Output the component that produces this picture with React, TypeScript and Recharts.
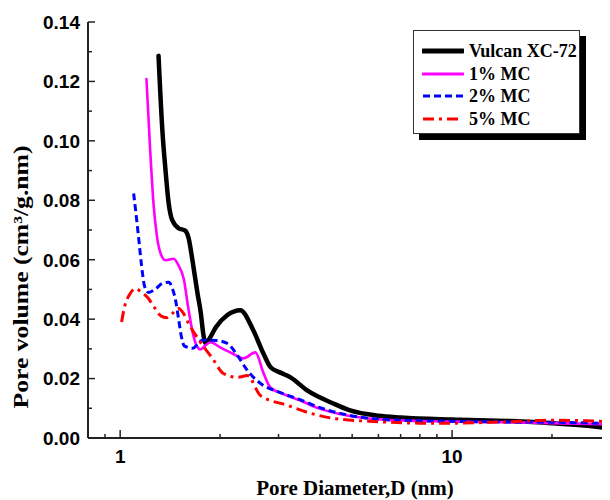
import React from "react";
import { LineChart, Line, XAxis, YAxis, Legend, Label } from "recharts";

// pore size distribution, [diameter nm, volume cm3/g.nm]
const vulcanXC72: [number, number][] = [
  [1.305, 0.1286], [1.34, 0.1036], [1.37, 0.09], [1.4, 0.079], [1.435, 0.0733],
  [1.5, 0.0706], [1.57, 0.0698], [1.61, 0.067], [1.65, 0.06], [1.71, 0.0487],
  [1.75, 0.042], [1.78, 0.035], [1.81, 0.0318], [1.86, 0.0335], [1.94, 0.0372],
  [2.1, 0.0413], [2.3, 0.043], [2.52, 0.0362], [2.7, 0.0285], [2.84, 0.0238],
  [3.04, 0.022], [3.26, 0.0204], [3.66, 0.016], [4.39, 0.0116], [4.93, 0.0093],
  [6.0, 0.0075], [7.0, 0.0069], [10, 0.0062], [15, 0.0057], [20, 0.005],
  [25, 0.0042], [29.5, 0.0033],
];

const mc1: [number, number][] = [
  [1.2, 0.1208], [1.23, 0.098], [1.26, 0.079], [1.29, 0.068], [1.33, 0.0615],
  [1.37, 0.0598], [1.45, 0.0603], [1.5, 0.058], [1.555, 0.0535], [1.6, 0.0445],
  [1.65, 0.036], [1.7, 0.031], [1.746, 0.0298], [1.8, 0.031], [1.87, 0.0322],
  [2.0, 0.0305], [2.2, 0.0282], [2.35, 0.0268], [2.556, 0.0288], [2.7, 0.022],
  [2.836, 0.017], [3.1, 0.0148], [3.49, 0.0126], [4.0, 0.0098], [4.83, 0.0076],
  [6, 0.0063], [8, 0.0057], [10, 0.0055], [15, 0.0053], [20, 0.005], [29.5, 0.0046],
];

const mc2: [number, number][] = [
  [1.098, 0.0823], [1.12, 0.074], [1.14, 0.066], [1.16, 0.058], [1.185, 0.051],
  [1.218, 0.049], [1.28, 0.0502], [1.34, 0.052], [1.4, 0.0524], [1.44, 0.05],
  [1.469, 0.0463], [1.5, 0.04], [1.53, 0.034], [1.56, 0.031], [1.652, 0.0302],
  [1.77, 0.0329], [1.95, 0.0328], [2.106, 0.0318], [2.25, 0.028], [2.418, 0.0227],
  [2.7, 0.0177], [3.0, 0.0155], [3.5, 0.0128], [4.0, 0.0102], [4.83, 0.0078],
  [6, 0.0063], [8, 0.0058], [10, 0.0056], [15, 0.0054], [20, 0.0053], [29.5, 0.0049],
];

const mc5: [number, number][] = [
  [1.01, 0.039], [1.03, 0.044], [1.07, 0.0485], [1.113, 0.0503], [1.16, 0.049],
  [1.21, 0.0473], [1.27, 0.0438], [1.33, 0.041], [1.38, 0.0405], [1.44, 0.042],
  [1.5, 0.0436], [1.55, 0.042], [1.607, 0.0386], [1.746, 0.0322], [1.897, 0.0268],
  [2.047, 0.0217], [2.257, 0.0204], [2.418, 0.021], [2.646, 0.0143], [3.19, 0.011],
  [3.7, 0.0085], [4.39, 0.0066], [6, 0.0055], [8, 0.005], [10, 0.005],
  [15, 0.0055], [20, 0.006], [25, 0.0058], [29.5, 0.0055],
];

const xTicks = [0.9, 1, 2, 3, 4, 5, 6, 7, 8, 9, 10, 20];
const xLabelled = [1, 10];
const yTicks = [0, 0.01, 0.02, 0.03, 0.04, 0.05, 0.06, 0.07, 0.08, 0.09, 0.1, 0.11, 0.12, 0.13, 0.14];
const yLabelled = [0, 0.02, 0.04, 0.06, 0.08, 0.1, 0.12, 0.14];

const series = [
  { name: "Vulcan XC-72", points: vulcanXC72, color: "#000000", width: 4.5, dash: undefined as string | undefined },
  { name: "1% MC", points: mc1, color: "#ff00ff", width: 2.6, dash: undefined },
  { name: "2% MC", points: mc2, color: "#0000ff", width: 3, dash: "7 4" },
  { name: "5% MC", points: mc5, color: "#ff0000", width: 3, dash: "11 5 3 5" },
];

const toRows = (pts: [number, number][]) => pts.map(([d, v]) => ({ d, v }));

const AXIS = "#222";
const tickFont = { fontFamily: "'Liberation Sans', Arial, sans-serif", fontWeight: 700, fontSize: 19, fill: "#000" };
const serif = "'Liberation Serif', 'Times New Roman', serif";

const isYMajor = (v: number) => yLabelled.some((m) => Math.abs(m - v) < 1e-9);

function BottomTick(props: any) {
  const { x, y, payload } = props;
  const major = xLabelled.includes(payload.value);
  return (
    <g>
      <line x1={x} x2={x} y1={y} y2={y - (major ? 8 : 4)} stroke={AXIS} strokeWidth={1.5} />
      {major && (
        <text x={x} y={y + 25} textAnchor="middle" {...tickFont}>
          {payload.value}
        </text>
      )}
    </g>
  );
}

function TopTick(props: any) {
  const { x, y, payload } = props;
  const major = xLabelled.includes(payload.value);
  return <line x1={x} x2={x} y1={y} y2={y + (major ? 8 : 4)} stroke={AXIS} strokeWidth={1.5} />;
}

function LeftTick(props: any) {
  const { x, y, payload } = props;
  const major = isYMajor(payload.value);
  return (
    <g>
      <line x1={x} x2={x + (major ? 7 : 4)} y1={y} y2={y} stroke={AXIS} strokeWidth={1.5} />
      {major && (
        <text x={x - 8} y={y} dy="0.36em" textAnchor="end" {...tickFont}>
          {payload.value.toFixed(2)}
        </text>
      )}
    </g>
  );
}

function RightTick(props: any) {
  const { x, y, payload } = props;
  const major = isYMajor(payload.value);
  return <line x1={x} x2={x - (major ? 7 : 4)} y1={y} y2={y} stroke={AXIS} strokeWidth={1.5} />;
}

function LegendBox() {
  return (
    <div
      style={{
        width: 167,
        height: 104,
        boxSizing: "border-box",
        border: "1px solid #333",
        background: "#fff",
        boxShadow: "6px 6px 0 #000",
        paddingTop: 9,
        paddingLeft: 8,
      }}
    >
      {series.map((s) => (
        <div key={s.name} style={{ display: "flex", alignItems: "center", height: 22.5 }}>
          <svg width={42} height={10} style={{ marginRight: 5 }}>
            <line
              x1={1}
              x2={41}
              y1={5}
              y2={5}
              stroke={s.color}
              strokeWidth={s.name === "Vulcan XC-72" ? 5 : 3}
              strokeDasharray={s.dash}
              strokeLinecap={s.dash ? "butt" : "round"}
            />
          </svg>
          <span style={{ fontFamily: serif, fontWeight: 700, fontSize: 18, color: "#000", lineHeight: 1 }}>
            {s.name}
          </span>
        </div>
      ))}
    </div>
  );
}

export default function App() {
  return (
    <div style={{ width: 602, height: 492 }}>
      <LineChart width={602} height={492} margin={{ top: 14, right: 2, bottom: 12, left: 0 }}>
        <XAxis
          dataKey="d"
          type="number"
          scale="log"
          domain={[0.8, 29.5]}
          allowDataOverflow
          ticks={xTicks}
          interval={0}
          height={50}
          tickSize={0}
          tickMargin={0}
          tickLine={false}
          axisLine={{ stroke: AXIS, strokeWidth: 2 }}
          tick={(p: any) => <BottomTick {...p} />}
        >
          <Label
            content={({ viewBox }: any) => (
              <text
                x={viewBox.x + viewBox.width / 2 + 7}
                y={viewBox.y + 57}
                textAnchor="middle"
                fontFamily={serif}
                fontWeight={700}
                fontSize={21}
                fill="#000"
              >
                Pore Diameter,D (nm)
              </text>
            )}
          />
        </XAxis>
        <XAxis
          xAxisId="top"
          orientation="top"
          dataKey="d"
          type="number"
          scale="log"
          domain={[0.8, 29.5]}
          allowDataOverflow
          ticks={xTicks}
          interval={0}
          height={0}
          tickSize={0}
          tickMargin={0}
          tickLine={false}
          axisLine={{ stroke: AXIS, strokeWidth: 2 }}
          tick={(p: any) => <TopTick {...p} />}
        />
        <YAxis
          type="number"
          domain={[0, 0.14]}
          allowDataOverflow
          ticks={yTicks}
          interval={0}
          width={80}
          tickSize={0}
          tickMargin={0}
          tickLine={false}
          axisLine={{ stroke: AXIS, strokeWidth: 2 }}
          tick={(p: any) => <LeftTick {...p} />}
        >
          <Label
            content={({ viewBox }: any) => {
              const cy = viewBox.y + viewBox.height / 2 + 47;
              return (
                <text
                  x={20}
                  y={cy}
                  transform={`rotate(-90, 20, ${cy})`}
                  textAnchor="middle"
                  fontFamily={serif}
                  fontWeight={700}
                  fontSize={21}
                  fill="#000"
                  textLength={263}
                  lengthAdjust="spacingAndGlyphs"
                >
                  Pore volume (cm³/g.nm)
                </text>
              );
            }}
          />
        </YAxis>
        <YAxis
          yAxisId="right"
          orientation="right"
          type="number"
          domain={[0, 0.14]}
          allowDataOverflow
          ticks={yTicks}
          interval={0}
          width={0}
          tickSize={0}
          tickMargin={0}
          tickLine={false}
          axisLine={{ stroke: AXIS, strokeWidth: 2 }}
          tick={(p: any) => <RightTick {...p} />}
        />
        <Legend
          layout="vertical"
          align="center"
          verticalAlign="middle"
          content={() => <LegendBox />}
          wrapperStyle={{ left: 405, top: 22, width: 167, height: 104 }}
        />
        {series.map((s) => (
          <Line
            key={s.name}
            name={s.name}
            data={toRows(s.points)}
            dataKey="v"
            type="monotone"
            stroke={s.color}
            strokeWidth={s.width}
            strokeDasharray={s.dash}
            strokeLinecap={s.dash ? "butt" : "round"}
            strokeLinejoin="round"
            dot={false}
            activeDot={false}
            isAnimationActive={false}
          />
        ))}
      </LineChart>
    </div>
  );
}
